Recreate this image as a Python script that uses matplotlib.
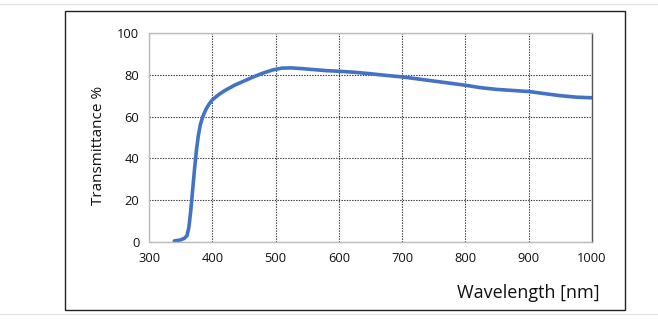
import matplotlib
matplotlib.use("Agg")
import matplotlib.pyplot as plt
from matplotlib.patches import Rectangle
from matplotlib.lines import Line2D

# transmittance curve
wavelength = [340, 350, 356, 360, 363, 366, 369, 372, 375, 378, 381, 385, 390,
              395, 400, 410, 420, 435, 450, 465, 480, 495, 510, 525, 540, 560,
              580, 600, 625, 650, 675, 700, 725, 750, 775, 800, 825, 850, 875,
              900, 925, 950, 975, 1000]
transmittance = [0.5, 1.0, 1.8, 3.0, 7.0, 15.0, 25.0, 35.0, 44.0, 51.0, 56.0,
                 60.0, 63.5, 66.0, 68.0, 70.5, 72.5, 75.0, 77.0, 79.0, 80.8,
                 82.3, 83.2, 83.3, 83.0, 82.5, 82.0, 81.7, 81.2, 80.5, 79.7,
                 79.0, 78.0, 77.0, 76.0, 75.0, 73.8, 73.0, 72.5, 72.0, 71.0,
                 70.0, 69.3, 69.0]

x_ticks = [300, 400, 500, 600, 700, 800, 900, 1000]
y_ticks = [0, 20, 40, 60, 80, 100]

plt.rcParams["font.family"] = ["Open Sans", "DejaVu Sans"]

fig = plt.figure(figsize=(6.58, 3.27), dpi=100)
W, H = 658, 327

# outer frame and light separator lines
fig.add_artist(Rectangle((65 / W, 1 - 310 / H), 560 / W, 299 / H,
                         transform=fig.transFigure, fill=False,
                         edgecolor="#222222", linewidth=1.0))
for yy in (4, 314):
    fig.add_artist(Line2D([0, 1], [1 - yy / H, 1 - yy / H],
                          transform=fig.transFigure, color="#e4e4e4", lw=1.0))

ax = fig.add_axes([149 / W, 1 - 242 / H, 443 / W, 209 / H])
ax.plot(wavelength, transmittance, color="#4472c4", lw=2.6,
        solid_capstyle="round", solid_joinstyle="round")

ax.set_xlim(300, 1000)
ax.set_ylim(0, 100)
ax.set_xticks(x_ticks)
ax.set_yticks(y_ticks)
ax.tick_params(length=0, labelsize=9.3, pad=7, colors="#111111")
ax.grid(True, color="#333333", linestyle=(0, (1.2, 1.2)), linewidth=0.8)
ax.set_axisbelow(True)

for side in ("left", "bottom", "top"):
    ax.spines[side].set_color("#bbbbbb")
ax.spines["right"].set_color("#555555")
for s in ax.spines.values():
    s.set_linewidth(1.0)

fig.text(98 / W, 1 - 145 / H, "Transmittance %", rotation=90,
         ha="center", va="center", fontsize=11, color="#111111")
fig.text(600 / W, 1 - 293 / H, "Wavelength [nm]", ha="right", va="center",
         fontsize=13, color="#111111")

fig.savefig("out.png", dpi=100)
